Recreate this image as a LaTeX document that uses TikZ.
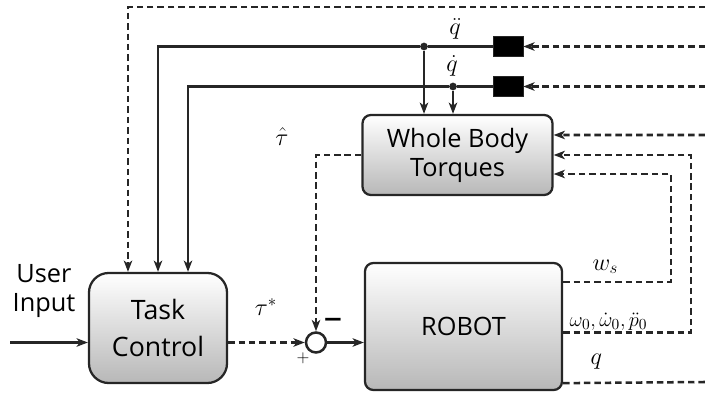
\documentclass[tikz,border=0pt]{standalone}
\usepackage{fontspec}
\setsansfont{Open Sans}
\usetikzlibrary{arrows.meta,positioning}

\begin{document}
\begin{tikzpicture}[x=0.025cm, y=-0.025cm, color=black!85,
    >={Stealth[length=8pt,width=6pt,inset=2.2pt]},
    wire/.style={line width=1.8pt},
    blk/.style={draw, line width=1.6pt, rounded corners=#1, top color=white, bottom color=black!28,
      align=center, text=black},
    fb/.style={wire, dash pattern=on 4.6pt off 2.8pt},
    lbl/.style={text=black, inner sep=1pt, font=\fontsize{16.5}{20}\selectfont},
    hold/.style={draw, fill=black, minimum width=0.75cm, minimum height=0.5cm, inner sep=0pt},
    jdot/.style={circle, fill, inner sep=0pt, minimum size=5.5pt}]

  \useasboundingbox (0,0) rectangle (705,394);

  % --- blocchi ---
  \node[blk=14pt, minimum width=3.45cm, minimum height=2.75cm,
    font=\sffamily\fontsize{19}{26}\selectfont] (task) at (158,328) {Task\\Control};
  \node[blk=6pt, minimum width=4.75cm, minimum height=2cm,
    font=\sffamily\fontsize{18}{20.6}\selectfont] (wbt) at (457.5,155) {Whole Body\\Torques};
  \node[blk=6pt, minimum width=4.925cm, minimum height=3.175cm,
    font=\sffamily\fontsize{18}{20}\selectfont] (robot) at (463.5,326.5) {ROBOT};
  \node[circle, draw, wire, minimum size=0.5cm, inner sep=0pt] (sum) at (316,342.5) {};
  \node[hold] (ddhold) at (508,46.5) {};
  \node[hold] (dhold) at (508,86.5) {};

  % --- punti liberi ---
  \coordinate (in) at (10,342.5);
  \coordinate (fbtop) at (705,7);
  \coordinate (fbdd) at (705,46.5);
  \coordinate (fbd) at (705,86.5);
  \coordinate (fbw) at (705,135);
  \coordinate (outq) at (705,382);
  \node[jdot] (jdd) at (424,46.5) {};
  \node[jdot] (jd) at (453,86.5) {};

  % --- ingresso utente ---
  \node[text=black, font=\sffamily\fontsize{18}{20.6}\selectfont, align=center] (user) at (44,291) {User\\Input};
  \draw[wire,->] (in) -- (in -| task.west);

  % --- derivate verso task e wbt ---
  \draw[fb,->] (fbtop) -| ([xshift=-0.75cm]task.north);
  \draw[wire,->] (ddhold.west) -- (jdd) -| (task.north);
  \draw[wire,->] (dhold.west) -- (jd) -| ([xshift=0.75cm]task.north);
  \draw[wire,->] (jdd) -- (jdd |- wbt.north);
  \draw[wire,->] (jd) -- (jd |- wbt.north);
  \draw[fb,->] (fbdd) -- (ddhold);
  \draw[fb,->] (fbd) -- (dhold);

  % --- retroazioni in wbt ---
  \draw[fb,->] (fbw) -- ([yshift=0.5cm]wbt.east);
  \draw[fb,->] ([yshift=-0.5cm]robot.north east) -- ++(108,0) |- ([yshift=-0.475cm]wbt.east);
  \draw[fb,->] ([yshift=-0.15cm]robot.east) -- ++(128,0) |- (wbt.east);
  \draw[fb] ([yshift=0.2cm]robot.south east) -- (outq);

  % --- nodo somma ---
  \draw[fb,->] (wbt.west) -| (sum.north);
  \draw[fb,->] (task.east |- sum.west) -- (sum.west);
  \draw[wire,->] (sum.east) -- (sum.east -| robot.west);

  % --- etichette ---
  \node[lbl, anchor=base] (lqdd) at (455,35) {$\ddot q$};
  \node[lbl, anchor=base] (lqd) at (452,72) {$\dot q$};
  \node[lbl, anchor=base] (ltauh) at (282,145) {$\hat\tau$};
  \node[lbl, anchor=base] (ltaus) at (266,315) {$\tau^*$};
  \node[lbl, anchor=base west] (lws) at (591,270) {$w_s$};
  \node[lbl, anchor=base west, font=\fontsize{15}{18}\selectfont] (lomega) at (568,326) {$\omega_0,\dot\omega_0,\ddot p_0$};
  \node[lbl, anchor=base west] (lq) at (589,364) {$q$};
  \node[text=black, font=\sffamily\fontsize{26}{26}\selectfont] (lminus) at (333,324) {–};
  \node[text=black, font=\fontsize{12}{12}\selectfont] (lplus) at (303,358) {$+$};

\end{tikzpicture}
\end{document}
